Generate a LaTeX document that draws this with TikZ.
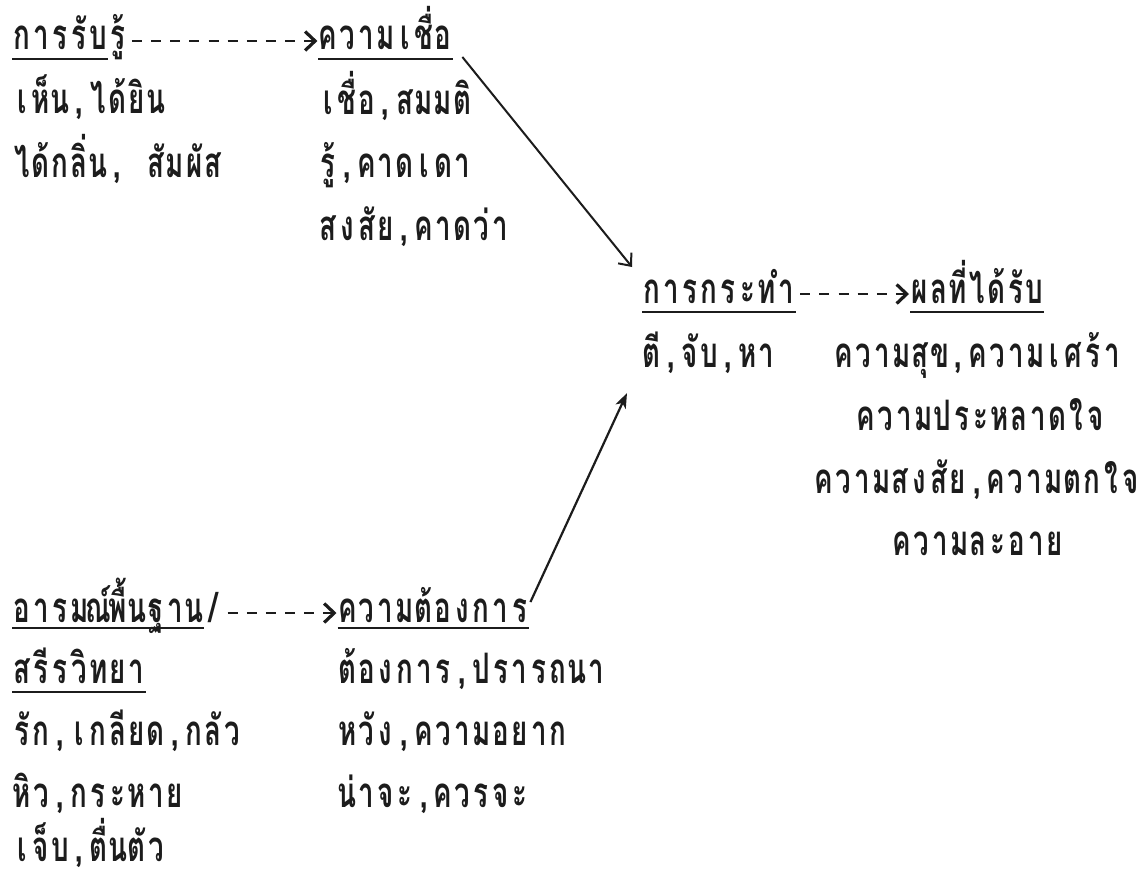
\documentclass[tikz,border=0pt]{standalone}
\usepackage{fontspec}
\usepackage{graphicx}
\usetikzlibrary{arrows.meta}
\newfontfamily\thai[Script=Thai]{Loma}
\definecolor{ink}{HTML}{1c1c1c}
% typewriter: one fixed column per Thai cell
\newlength\twp
\setlength\twp{29.02pt}
\def\twEND{}
\def\twENDm{\twEND}
\def\twA#1{\def\twtmp{#1}\ifx\twtmp\twENDm\else\makebox[\twp][c]{#1}\expandafter\twA\fi}
\newcommand\tw[1]{\scalebox{0.66}[1]{\thai\bfseries\fontsize{42}{48}\selectfont\twA#1{\twEND}}}
\tikzset{
  lbl/.style={anchor=base west, inner sep=0pt, text=ink},
  ul/.style={draw=ink, line width=2pt},
  dashconn/.style={draw=ink, line width=2.6pt, dash pattern=on 10pt off 9.15pt,
    -{Straight Barb[length=10pt,width=19pt,line width=3.2pt]}},
  arrA/.style={draw=ink, line width=2pt, -{Straight Barb[length=10pt,width=17pt,line width=2pt]}},
  arrB/.style={draw=ink, line width=2.2pt, -{Stealth[length=15pt,width=11pt,inset=4pt]}}
}
\begin{document}
\begin{tikzpicture}[x=1pt,y=-1pt]
\fill[white] (0,0) rectangle (1143,875);
\useasboundingbox (0,0) rectangle (1143,875);
% perception / belief
\node[lbl] (perc) at (12,50) {\tw{{ก}{า}{ร}{รั}{บ}{รู้}}};
\node[lbl] (bel) at (318.4,50) {\tw{{ค}{ว}{า}{ม}{เ}{ชื่}{อ}}};
\node[lbl] (p1) at (12,113) {\tw{{เ}{ห็}{น}{,}{ไ}{ด้}{ยิ}{น}}};
\node[lbl] (p2) at (12,177) {\tw{{ไ}{ด้}{ก}{ลิ่}{น}{,}{}{สั}{ม}{ผั}{ส}}};
\node[lbl] (b1) at (318.4,114) {\tw{{เ}{ชื่}{อ}{,}{ส}{ม}{ม}{ติ}}};
\node[lbl] (b2) at (318.4,177) {\tw{{รู้}{,}{ค}{า}{ด}{เ}{ด}{า}}};
\node[lbl] (b3) at (318.4,240) {\tw{{ส}{ง}{สั}{ย}{,}{ค}{า}{ด}{ว่}{า}}};
% action / result
\node[lbl] (act) at (642,303) {\tw{{ก}{า}{ร}{ก}{ร}{ะ}{ท}{ำ}}};
\node[lbl] (res) at (910,303) {\tw{{ผ}{ล}{ที่}{ไ}{ด้}{รั}{บ}}};
\node[lbl] (a1) at (642,367) {\tw{{ตี}{,}{จั}{บ}{,}{ห}{า}}};
\node[lbl] (r1) at (834,367) {\tw{{ค}{ว}{า}{ม}{สุ}{ข}{,}{ค}{ว}{า}{ม}{เ}{ศ}{ร้}{า}}};
\node[lbl] (r2) at (856,430) {\tw{{ค}{ว}{า}{ม}{ป}{ร}{ะ}{ห}{ล}{า}{ด}{ใ}{จ}}};
\node[lbl] (r3) at (814,493) {\tw{{ค}{ว}{า}{ม}{ส}{ง}{สั}{ย}{,}{ค}{ว}{า}{ม}{ต}{ก}{ใ}{จ}}};
\node[lbl] (r4) at (892,555) {\tw{{ค}{ว}{า}{ม}{ล}{ะ}{อ}{า}{ย}}};
% basic emotion / desire
\node[lbl] (emo) at (12,622) {\tw{{อ}{า}{ร}{ม}{ณ์}{พื้}{น}{ฐ}{า}{น}{/}}};
\node[lbl] (want) at (337.5,622) {\tw{{ค}{ว}{า}{ม}{ต้}{อ}{ง}{ก}{า}{ร}}};
\node[lbl] (phys) at (12,683) {\tw{{ส}{รี}{ร}{วิ}{ท}{ย}{า}}};
\node[lbl] (e1) at (12,745) {\tw{{รั}{ก}{,}{เ}{ก}{ลี}{ย}{ด}{,}{ก}{ลั}{ว}}};
\node[lbl] (e2) at (12,807) {\tw{{หิ}{ว}{,}{ก}{ร}{ะ}{ห}{า}{ย}}};
\node[lbl] (e3) at (12,861) {\tw{{เ}{จ็}{บ}{,}{ตื่}{น}{ตั}{ว}}};
\node[lbl] (w1) at (337.5,683) {\tw{{ต้}{อ}{ง}{ก}{า}{ร}{,}{ป}{ร}{า}{ร}{ถ}{น}{า}}};
\node[lbl] (w2) at (337.5,745) {\tw{{ห}{วั}{ง}{,}{ค}{ว}{า}{ม}{อ}{ย}{า}{ก}}};
\node[lbl] (w3) at (337.5,807) {\tw{{น่}{า}{จ}{ะ}{,}{ค}{ว}{ร}{จ}{ะ}}};
% underlines
\draw[ul] ([yshift=-9pt]perc.base west) -- ++(95.75,0);
\draw[ul] ([yshift=-9pt]bel.base west) -- ([yshift=-9pt]bel.base east);
\draw[ul] ([yshift=-9pt]act.base west) -- ([yshift=-9pt]act.base east);
\draw[ul] ([yshift=-9pt]res.base west) -- ([yshift=-9pt]res.base east);
\draw[ul] ([yshift=-6pt]emo.base west) -- ++(191.5,0);
\draw[ul] ([yshift=-6pt]want.base west) -- ([yshift=-6pt]want.base east);
\draw[ul] ([yshift=-9pt]phys.base west) -- ([yshift=-9pt]phys.base east);
% dashed connectors (typed dashes)
\draw[dashconn] ([xshift=4.6pt,yshift=9pt]perc.base east) -- ([xshift=-1pt,yshift=9pt]bel.base west);
\draw[dashconn] ([xshift=4.6pt,yshift=9pt]act.base east) -- ([xshift=-1pt,yshift=9pt]res.base west);
\draw[dashconn] ([xshift=4.6pt,yshift=9pt]emo.base east) -- ([xshift=-1pt,yshift=9pt]want.base west);
% solid arrows
\draw[arrA] ([xshift=9.5pt,yshift=-7pt]bel.base east) -- ([xshift=-10pt,yshift=36pt]act.base west);
\draw[arrB] ([xshift=1pt,yshift=20pt]want.base east) -- ([xshift=-15pt,yshift=-26pt]a1.base west);
\end{tikzpicture}
\end{document}
